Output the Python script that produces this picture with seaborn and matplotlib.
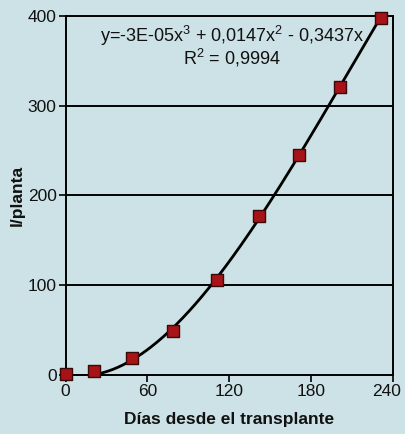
import numpy as np
import pandas as pd
import matplotlib
matplotlib.use("Agg")
import matplotlib.pyplot as plt
import matplotlib.transforms as mtransforms
import seaborn as sns

# Días desde el transplante y litros por planta
dias = [0, 21, 49, 79, 111, 142, 171, 201, 231]
litros = [1, 4, 19, 49, 105, 177, 245, 321, 398]
x_ticks = [0, 60, 120, 180, 240]
y_ticks = [0, 100, 200, 300, 400]
ecuacion = "y=-3E-05x$^3$ + 0,0147x$^2$ - 0,3437x"
r2_texto = "R$^2$ = 0,9994"

sns.set_theme(style="white")
plt.rcParams["font.family"] = ["Liberation Sans", "DejaVu Sans"]
plt.rcParams["mathtext.fontset"] = "custom"
plt.rcParams["mathtext.rm"] = "Liberation Sans"

bg = "#cde2e6"
fig = plt.figure(figsize=(4.05, 4.34), dpi=100, facecolor=bg)
ax = fig.add_axes([0.162, 0.137, 0.808, 0.826])
ax.set_facecolor(bg)

df = pd.DataFrame({"dias": dias, "litros": litros})

# polynomial trend of order 3 through the origin
X = np.column_stack([df["dias"] ** 3, df["dias"] ** 2, df["dias"]])
coef, *_ = np.linalg.lstsq(X, df["litros"], rcond=None)
xs = np.linspace(0, max(dias), 200)
curve = pd.DataFrame({"dias": xs,
                      "litros": coef[0] * xs ** 3 + coef[1] * xs ** 2 + coef[2] * xs})

for yv in y_ticks[1:-1]:
    ax.axhline(yv, color="black", lw=1.4, zorder=1)

sns.lineplot(data=curve, x="dias", y="litros", ax=ax, color="black", lw=2.0, zorder=2)
sns.scatterplot(data=df, x="dias", y="litros", ax=ax, marker="s", s=70,
                color="#a81318", edgecolor="#3a0a08", linewidth=1.0, zorder=3, clip_on=False)

ax.set_xlim(0, 240)
ax.set_ylim(0, 400)
ax.set_xticks(x_ticks)
ax.set_yticks(y_ticks)
ax.tick_params(axis="both", direction="out", length=5, width=1.2, color="black",
               labelsize=12.5, pad=1.5, bottom=True, left=True, labelcolor="#111111")
for sp in ax.spines.values():
    sp.set_visible(True)
    sp.set_color("black")
    sp.set_linewidth(1.4)

# nudge the last x tick label inward so it stays inside the figure
last = ax.get_xticklabels()[-1]
last.set_transform(last.get_transform() +
                   mtransforms.ScaledTranslation(-6 / 100, 0, fig.dpi_scale_trans))

ax.set_xlabel("Días desde el transplante", fontsize=12.5, fontweight="bold",
              labelpad=10, color="#111111")
ax.set_ylabel("l/planta", fontsize=12.5, fontweight="bold", labelpad=2, color="#111111")

ax.text(122, 366, ecuacion + "\n" + r2_texto, ha="center", va="center",
        multialignment="center", linespacing=0.9, fontsize=13, color="#111111")

fig.savefig("out.png", dpi=100, facecolor=bg)
